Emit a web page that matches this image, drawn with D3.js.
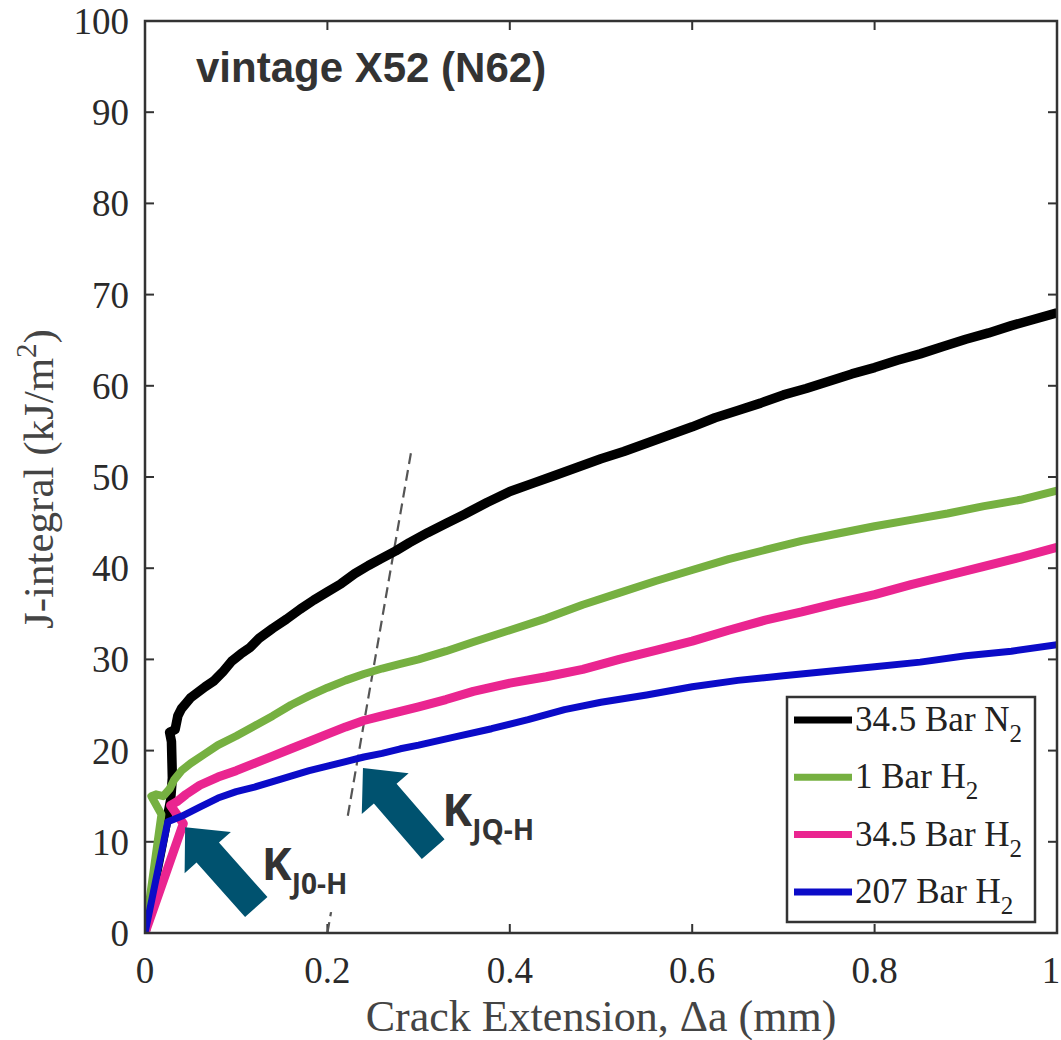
<!DOCTYPE html>
<html>
<head>
<meta charset="utf-8">
<script src="https://cdn.jsdelivr.net/npm/d3@7"></script>
<style>
  html, body { margin: 0; padding: 0; background: #fff; }
  svg { display: block; }
</style>
</head>
<body>
<svg id="chart" width="1061" height="1040"></svg>
<script>
// Crack extension (mm) vs J-integral (kJ/m^2) resistance curves
const xTicks = [0, 0.2, 0.4, 0.6, 0.8, 1];
const yTicks = [0, 10, 20, 30, 40, 50, 60, 70, 80, 90, 100];

const seriesNames = ["34.5 Bar N", "1 Bar H", "34.5 Bar H", "207 Bar H"];
const seriesColors = ["#000000", "#76b041", "#ea2590", "#0b0bc8"];
const seriesWidths = [9.5, 8, 9, 7];

const n2_345_a = [0, 0.028, 0.030, 0.029, 0.027, 0.033, 0.036, 0.040, 0.045, 0.050, 0.058, 0.066, 0.075, 0.085, 0.095, 0.105, 0.115, 0.125, 0.14, 0.155, 0.17, 0.185, 0.2, 0.215, 0.23, 0.245, 0.26, 0.275, 0.29, 0.31, 0.33, 0.35, 0.375, 0.4, 0.425, 0.45, 0.475, 0.5, 0.525, 0.55, 0.575, 0.6, 0.625, 0.65, 0.675, 0.7, 0.725, 0.75, 0.775, 0.8, 0.825, 0.85, 0.875, 0.9, 0.925, 0.95, 0.975, 1.0];
const n2_345_J = [0, 14.5, 17, 21, 22, 22.3, 23.8, 24.6, 25.2, 25.8, 26.4, 27.0, 27.6, 28.6, 29.8, 30.6, 31.3, 32.3, 33.4, 34.4, 35.5, 36.5, 37.4, 38.3, 39.4, 40.3, 41.1, 41.9, 42.8, 43.9, 44.9, 45.9, 47.2, 48.4, 49.3, 50.2, 51.1, 52.0, 52.8, 53.7, 54.6, 55.5, 56.5, 57.3, 58.1, 59.0, 59.7, 60.5, 61.3, 62.0, 62.8, 63.5, 64.3, 65.1, 65.8, 66.6, 67.3, 68.0];

const h2_1_a = [0, 0.018, 0.007, 0.012, 0.02, 0.027, 0.032, 0.04, 0.05, 0.065, 0.08, 0.1, 0.12, 0.14, 0.16, 0.18, 0.2, 0.22, 0.24, 0.26, 0.28, 0.3, 0.33, 0.36, 0.4, 0.44, 0.48, 0.52, 0.56, 0.6, 0.64, 0.68, 0.72, 0.76, 0.8, 0.84, 0.88, 0.92, 0.96, 1.0];
const h2_1_J = [0, 13, 15, 15.2, 15.0, 15.8, 16.8, 17.8, 18.6, 19.6, 20.6, 21.6, 22.7, 23.8, 25.0, 26.0, 26.9, 27.7, 28.4, 29.0, 29.5, 30.0, 30.9, 31.9, 33.2, 34.5, 36.0, 37.3, 38.6, 39.8, 41.0, 42.0, 43.0, 43.8, 44.6, 45.3, 46.0, 46.8, 47.5, 48.5];

const h2_345_a = [0, 0.042, 0.028, 0.035, 0.045, 0.06, 0.08, 0.1, 0.12, 0.14, 0.16, 0.18, 0.2, 0.22, 0.24, 0.26, 0.28, 0.3, 0.33, 0.36, 0.4, 0.44, 0.48, 0.52, 0.56, 0.6, 0.64, 0.68, 0.72, 0.76, 0.8, 0.84, 0.88, 0.92, 0.96, 1.0];
const h2_345_J = [0, 12, 14, 14.4, 15.2, 16.2, 17.1, 17.8, 18.6, 19.4, 20.2, 21.0, 21.8, 22.6, 23.3, 23.8, 24.3, 24.8, 25.6, 26.5, 27.4, 28.1, 28.9, 30.0, 31.0, 32.0, 33.2, 34.3, 35.2, 36.2, 37.1, 38.2, 39.2, 40.2, 41.2, 42.3];

const h2_207_a = [0, 0.025, 0.04, 0.06, 0.08, 0.1, 0.12, 0.14, 0.16, 0.18, 0.2, 0.22, 0.24, 0.26, 0.28, 0.3, 0.34, 0.38, 0.42, 0.46, 0.5, 0.55, 0.6, 0.65, 0.7, 0.75, 0.8, 0.85, 0.9, 0.95, 1.0];
const h2_207_J = [0, 12.2, 12.8, 13.8, 14.8, 15.5, 16.0, 16.6, 17.2, 17.8, 18.3, 18.8, 19.3, 19.7, 20.2, 20.6, 21.5, 22.4, 23.4, 24.5, 25.3, 26.1, 27.0, 27.7, 28.2, 28.7, 29.2, 29.7, 30.4, 30.9, 31.6];

// construction line through the qualification points
const offsetLineA = [0.2, 0.2917];
const offsetLineJ = [0, 52.7];

// annotation arrows: [tail, tip] in data units
const arrowJ0 = { tail: [0.122, 2.85], tip: [0.044, 11.6] };
const arrowJQ = { tail: [0.316, 9.2], tip: [0.239, 18.1] };
const labelJ0 = { at: [0.128, 5.8], main: "K", sub: "J0-H" };
const labelJQ = { at: [0.326, 11.7], main: "K", sub: "JQ-H" };

const series = [
  { a: n2_345_a, J: n2_345_J },
  { a: h2_1_a, J: h2_1_J },
  { a: h2_345_a, J: h2_345_J },
  { a: h2_207_a, J: h2_207_J }
].map((s, i) => ({
  name: seriesNames[i], color: seriesColors[i], width: seriesWidths[i],
  points: s.a.map((v, k) => [v, s.J[k]])
}));

const svg = d3.select("#chart");
const margin = { left: 145, top: 21, right: 4, bottom: 107 };
const W = 1061, H = 1040;
const x = d3.scaleLinear().domain([0, 1]).range([margin.left, W - margin.right]);
const y = d3.scaleLinear().domain([0, 100]).range([H - margin.bottom, margin.top]);

const axisColor = "#333";
const serif = "'Liberation Serif', 'Times New Roman', serif";

svg.append("defs").append("clipPath").attr("id", "plotClip")
  .append("rect").attr("x", x(0)).attr("y", y(100))
  .attr("width", x(1) - x(0)).attr("height", y(0) - y(100));

// ticks (inward on all four sides)
const tickLen = 9;
const axes = svg.append("g").attr("stroke", axisColor).attr("stroke-width", 2);
xTicks.forEach(t => {
  axes.append("line").attr("x1", x(t)).attr("x2", x(t)).attr("y1", y(0)).attr("y2", y(0) - tickLen);
  axes.append("line").attr("x1", x(t)).attr("x2", x(t)).attr("y1", y(100)).attr("y2", y(100) + tickLen);
});
yTicks.forEach(t => {
  axes.append("line").attr("x1", x(0)).attr("x2", x(0) + tickLen).attr("y1", y(t)).attr("y2", y(t));
  axes.append("line").attr("x1", x(1)).attr("x2", x(1) - tickLen).attr("y1", y(t)).attr("y2", y(t));
});

// tick labels (the last one is kept inside the page edge)
svg.append("g").selectAll("text").data(xTicks).join("text")
  .attr("x", d => Math.min(x(d), W - 10)).attr("y", y(0) + 50)
  .attr("text-anchor", "middle")
  .attr("font-family", serif).attr("font-size", 37).attr("fill", "#2a2a2a")
  .text(d => d3.format("~g")(d));
svg.append("g").selectAll("text").data(yTicks).join("text")
  .attr("x", x(0) - 16).attr("y", d => y(d)).attr("dy", "0.35em")
  .attr("text-anchor", "end")
  .attr("font-family", serif).attr("font-size", 37).attr("fill", "#2a2a2a")
  .text(d => d);

// axis titles
svg.append("text")
  .attr("x", (x(0) + x(1)) / 2).attr("y", 1031)
  .attr("text-anchor", "middle")
  .attr("font-family", serif).attr("font-size", 44).attr("fill", "#444")
  .text("Crack Extension, \u0394a (mm)");
const yl = svg.append("text")
  .attr("transform", `translate(53, ${(y(0) + y(100)) / 2 + 2}) rotate(-90)`)
  .attr("text-anchor", "middle")
  .attr("font-family", serif).attr("font-size", 43).attr("fill", "#444");
yl.append("tspan").text("J-integral (kJ/m");
yl.append("tspan").attr("font-size", 29).attr("dy", -17).text("2");
yl.append("tspan").attr("dy", 17).text(")");

// dashed construction line
svg.append("line")
  .attr("x1", x(offsetLineA[0])).attr("y1", y(offsetLineJ[0]))
  .attr("x2", x(offsetLineA[1])).attr("y2", y(offsetLineJ[1]))
  .attr("stroke", "#555").attr("stroke-width", 2.2)
  .attr("stroke-dasharray", "11,6");

// curves (N2 underneath, highest-pressure H2 on top)
const line = d3.line().x(d => x(d[0])).y(d => y(d[1]));
svg.append("g").attr("clip-path", "url(#plotClip)")
  .selectAll("path").data(series).join("path")
  .attr("d", d => line(d.points))
  .attr("fill", "none")
  .attr("stroke", d => d.color)
  .attr("stroke-width", d => d.width)
  .attr("stroke-linejoin", "round");

// frame
svg.append("rect")
  .attr("x", x(0)).attr("y", y(100))
  .attr("width", x(1) - x(0)).attr("height", y(0) - y(100))
  .attr("fill", "none").attr("stroke", axisColor).attr("stroke-width", 2.5);

// title
svg.append("text")
  .attr("x", 196).attr("y", 82)
  .attr("font-family", "'Liberation Sans', Arial, sans-serif")
  .attr("font-weight", "bold").attr("font-size", 42).attr("fill", "#333")
  .text("vintage X52 (N62)");

// legend
const lg = svg.append("g");
lg.append("rect").attr("x", 787).attr("y", 697).attr("width", 248).attr("height", 225)
  .attr("fill", "#fff").attr("stroke", axisColor).attr("stroke-width", 2.5);
series.forEach((s, i) => {
  const cy = 720 + i * 57.3;
  lg.append("line").attr("x1", 794).attr("x2", 852).attr("y1", cy).attr("y2", cy)
    .attr("stroke", s.color).attr("stroke-width", 7);
  const t = lg.append("text").attr("x", 855).attr("y", cy + 11)
    .attr("font-family", serif).attr("font-size", 35).attr("fill", "#222");
  t.append("tspan").text(s.name);
  t.append("tspan").attr("font-size", 25).attr("dy", 11).text("2");
});

// annotation labels (with white backing)
const sans = "'Open Sans', 'Noto Sans', sans-serif";
function drawLabel(lab) {
  const g = svg.append("g");
  const bx = x(lab.at[0]), by = y(lab.at[1]);
  const t = g.append("text").attr("x", bx).attr("y", by)
    .attr("font-family", sans).attr("font-weight", "bold").attr("fill", "#333");
  t.append("tspan").attr("font-size", 45).text(lab.main);
  t.append("tspan").attr("font-size", 28).attr("dy", 14).text(lab.sub);
  const bb = t.node().getBBox();
  g.insert("rect", "text")
    .attr("x", bb.x - 4).attr("y", bb.y - 14)
    .attr("width", bb.width + 8).attr("height", bb.height + 24)
    .attr("fill", "#fff");
}
drawLabel(labelJ0);
drawLabel(labelJQ);

// block arrows
function drawArrow(ar) {
  const x0 = x(ar.tail[0]), y0 = y(ar.tail[1]);
  const x1 = x(ar.tip[0]), y1 = y(ar.tip[1]);
  const L = Math.hypot(x1 - x0, y1 - y0);
  const ang = Math.atan2(y1 - y0, x1 - x0) * 180 / Math.PI;
  const hw = 15, headL = 34, headW = 31;
  const pts = [[0, -hw], [L - headL, -hw], [L - headL, -headW], [L, 0],
               [L - headL, headW], [L - headL, hw], [0, hw]];
  svg.append("polygon")
    .attr("points", pts.map(p => p.join(",")).join(" "))
    .attr("transform", `translate(${x0},${y0}) rotate(${ang})`)
    .attr("fill", "#00526f");
}
drawArrow(arrowJ0);
drawArrow(arrowJQ);
</script>
</body>
</html>
